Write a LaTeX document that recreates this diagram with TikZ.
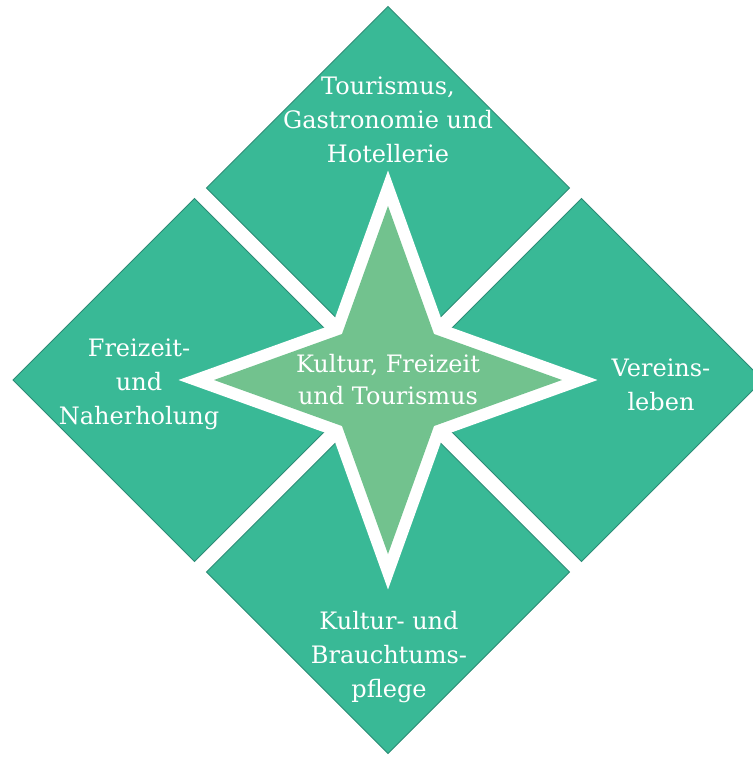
\documentclass[tikz,border=0pt]{standalone}
\usepackage{fontspec}
\setmainfont{DejaVu Serif}
\definecolor{tile}{RGB}{57,185,150}
\definecolor{tileedge}{RGB}{44,140,118}
\definecolor{starfill}{RGB}{114,194,142}
\begin{document}
\begin{tikzpicture}[x=1pt,y=-1pt,
  tilebox/.style={fill=tile, draw=tileedge, line width=0.8pt, line join=miter},
  % anchor=base sits on the baseline of the last line
  tiletext/.style={text=white, align=center, inner sep=0pt, anchor=base,
    font=\fontsize{24}{34}\selectfont},
  hubtext/.style={tiletext, font=\fontsize{24}{32}\selectfont},
]
\useasboundingbox[fill=white] (0,0) rectangle (753,764);

% four rotated squares around the centre, separated by white gaps
\begin{scope}[shift={(388,380)}]
  \draw[tilebox] (0,-373.5) -- (181.5,-192) -- (0,-10.5) -- (-181.5,-192) -- cycle;
  \draw[tilebox] (-375,0) -- (-193.5,-181.5) -- (-12,0) -- (-193.5,181.5) -- cycle;
  \draw[tilebox] (375,0) -- (193.5,-181.5) -- (12,0) -- (193.5,181.5) -- cycle;
  \draw[tilebox] (0,373.5) -- (181.5,192) -- (0,10.5) -- (-181.5,192) -- cycle;

  % four-pointed star with a white rim
  \draw[white, line width=24pt, line join=miter, miter limit=10]
    (0,-174) -- (46,-46) -- (174,0) -- (46,46) -- (0,174) -- (-46,46) -- (-174,0) -- (-46,-46) -- cycle;
  \fill[starfill]
    (0,-174) -- (46,-46) -- (174,0) -- (46,46) -- (0,174) -- (-46,46) -- (-174,0) -- (-46,-46) -- cycle;
\end{scope}

% labels
\node[tiletext] (tourism) at (388,162) {Tourismus,\\Gastronomie und\\Hotellerie};
\node[tiletext] (leisure) at (139,424) {Freizeit-\\und\\Naherholung};
\node[tiletext] (clubs) at (661,410) {Vereins-\\leben};
\node[tiletext] (custom) at (389,697) {Kultur- und\\Brauchtums-\\pflege};
\node[hubtext] (hub) at (388,404) {Kultur, Freizeit\\und Tourismus};
\end{tikzpicture}
\end{document}
